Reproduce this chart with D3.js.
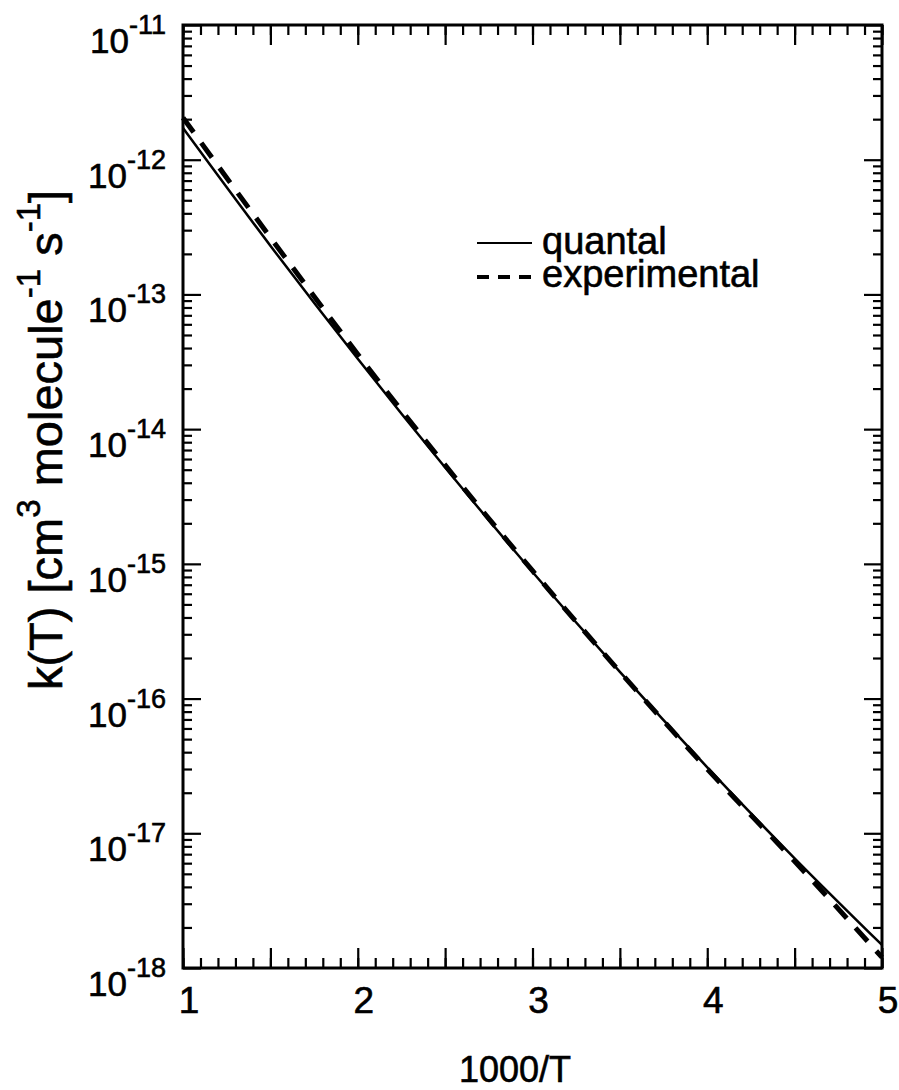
<!DOCTYPE html>
<html>
<head>
<meta charset="utf-8">
<script src="https://cdn.jsdelivr.net/npm/d3@7"></script>
<style>
  body { margin: 0; background: #fff; }
  text { font-family: "Liberation Sans", Arial, sans-serif; fill: #000; stroke: #000; stroke-width: 0.6px; }
</style>
</head>
<body>
<div id="main"></div>
<script>
// values
var invT = [1, 1.5, 2, 2.5, 3, 3.5, 4, 4.5, 5];
var quantal = [1.72e-12, 2.30e-13, 3.33e-14, 5.19e-15, 8.71e-16, 1.58e-16, 3.09e-17, 6.52e-18, 1.48e-18];
var experimental = [2.05e-12, 2.65e-13, 3.60e-14, 5.40e-15, 8.90e-16, 1.58e-16, 3.00e-17, 6.20e-18, 1.20e-18];
var xTicks = [1, 2, 3, 4, 5];
var yDecades = [-18, -17, -16, -15, -14, -13, -12, -11];

var W = 899, H = 1090;
var plotLeft = 183, plotRight = 882, plotTop = 25, plotBottom = 968;

var svg = d3.select('#main').append('svg').attr('width', W).attr('height', H);

var x = d3.scaleLinear().domain([1, 5]).range([plotLeft, plotRight]);
var y = d3.scaleLog().domain([1e-18, 1e-11]).range([plotBottom, plotTop]);

// tick positions
var xMinor = d3.range(10, 51).map(function(d) { return d / 10; });
var xHalf = d3.range(2, 11).map(function(d) { return d / 2; });
var yMinor = [];
yDecades.slice(0, -1).forEach(function(e) {
  d3.range(2, 10).forEach(function(m) { yMinor.push(m * Math.pow(10, e)); });
});
var yMajor = yDecades.map(function(e) { return Math.pow(10, e); });

function tickAxis(axisFn, scale, values, size) {
  return axisFn(scale).tickValues(values).tickSizeInner(size).tickSizeOuter(0).tickFormat('');
}

var g = svg.append('g');
var axes = [
  [d3.axisBottom, x, xMinor, -10, 'translate(0,' + plotBottom + ')'],
  [d3.axisBottom, x, xHalf, -20, 'translate(0,' + plotBottom + ')'],
  [d3.axisTop, x, xMinor, -10, 'translate(0,' + plotTop + ')'],
  [d3.axisTop, x, xHalf, -20, 'translate(0,' + plotTop + ')'],
  [d3.axisLeft, y, yMinor, -9, 'translate(' + plotLeft + ',0)'],
  [d3.axisLeft, y, yMajor, -18, 'translate(' + plotLeft + ',0)'],
  [d3.axisRight, y, yMinor, -9, 'translate(' + plotRight + ',0)'],
  [d3.axisRight, y, yMajor, -18, 'translate(' + plotRight + ',0)']
];
axes.forEach(function(a) {
  var ax = g.append('g').attr('transform', a[4]).call(tickAxis(a[0], a[1], a[2], a[3]));
  ax.select('.domain').remove();
  ax.selectAll('line').attr('stroke', '#000').attr('stroke-width', 2.2);
});

// frame
svg.append('rect')
  .attr('x', plotLeft).attr('y', plotTop)
  .attr('width', plotRight - plotLeft).attr('height', plotBottom - plotTop)
  .attr('fill', 'none').attr('stroke', '#000').attr('stroke-width', 3);

// x tick labels
svg.selectAll('.xlab').data(xTicks).enter().append('text')
  .attr('class', 'xlab')
  .attr('x', function(d) { return x(d) + 6; })
  .attr('y', plotBottom + 45)
  .attr('text-anchor', 'middle')
  .attr('font-size', 37)
  .text(function(d) { return d; });

// y tick labels
var ylab = svg.selectAll('.ylab').data(yDecades).enter().append('text')
  .attr('class', 'ylab')
  .attr('text-anchor', 'end')
  .attr('x', 166)
  .attr('y', function(d) { return y(Math.pow(10, d)) + 28; })
  .attr('font-size', 35);
ylab.append('tspan').text('10');
ylab.append('tspan').attr('font-size', 27).attr('dy', -19).text(function(d) { return '-' + Math.abs(d); });

// axis titles
svg.append('text')
  .attr('x', 515).attr('y', 1082)
  .attr('text-anchor', 'middle')
  .attr('font-size', 36)
  .text('1000/T');

var yt = svg.append('text')
  .attr('transform', 'translate(62,440) rotate(-90)')
  .attr('text-anchor', 'middle')
  .attr('font-size', 47);
yt.append('tspan').text('k(T) [cm');
yt.append('tspan').attr('font-size', 33).attr('dy', -22).text('3');
yt.append('tspan').attr('dy', 22).text(' molecule');
yt.append('tspan').attr('font-size', 33).attr('dy', -22).text('-1');
yt.append('tspan').attr('dy', 22).text(' s');
yt.append('tspan').attr('font-size', 33).attr('dy', -22).text('-1');
yt.append('tspan').attr('dy', 22).text(']');

// curves
var line = d3.line().curve(d3.curveMonotoneX)
  .x(function(d) { return x(d[0]); })
  .y(function(d) { return y(d[1]); });

svg.append('path')
  .datum(d3.zip(invT, experimental))
  .attr('d', line)
  .attr('fill', 'none').attr('stroke', '#000')
  .attr('stroke-width', 5).attr('stroke-dasharray', '18,13');

svg.append('path')
  .datum(d3.zip(invT, quantal))
  .attr('d', line)
  .attr('fill', 'none').attr('stroke', '#000')
  .attr('stroke-width', 2.5);

// legend
var legend = svg.append('g');
legend.append('line')
  .attr('x1', 477).attr('x2', 532).attr('y1', 243).attr('y2', 243)
  .attr('stroke', '#000').attr('stroke-width', 2.2);
legend.append('line')
  .attr('x1', 477).attr('x2', 536).attr('y1', 277).attr('y2', 277)
  .attr('stroke', '#000').attr('stroke-width', 4).attr('stroke-dasharray', '12,9');
legend.append('text').attr('x', 542).attr('y', 254).attr('font-size', 38).text('quantal');
legend.append('text').attr('x', 542).attr('y', 287).attr('font-size', 38).text('experimental');
</script>
</body>
</html>
